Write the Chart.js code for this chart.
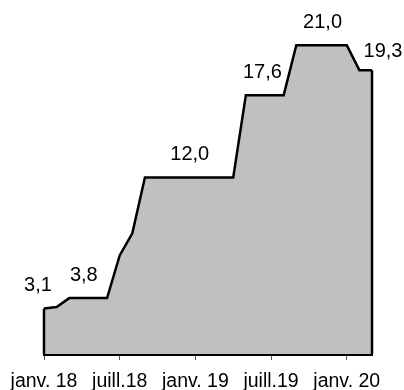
<html>
<head>
    <title>Croissance mensuelle</title>
    <script src="https://cdn.jsdelivr.net/npm/chart.js"></script>
    <style>
        body { margin: 0; background: #ffffff; }
        #wrap { width: 404px; height: 390px; }
    </style>
</head>
<body>
    <div id="wrap">
        <canvas id="area_chart" width="404" height="390"></canvas>
    </div>

    <script>
        // months from janv. 2018 to mars 2020
        const months = [
            "2018-01", "2018-02", "2018-03", "2018-04", "2018-05", "2018-06",
            "2018-07", "2018-08", "2018-09", "2018-10", "2018-11", "2018-12",
            "2019-01", "2019-02", "2019-03", "2019-04", "2019-05", "2019-06",
            "2019-07", "2019-08", "2019-09", "2019-10", "2019-11", "2019-12",
            "2020-01", "2020-02", "2020-03"
        ];
        const values = [
            3.1, 3.2, 3.8, 3.8, 3.8, 3.8,
            6.7, 8.2, 12.0, 12.0, 12.0, 12.0,
            12.0, 12.0, 12.0, 12.0, 17.6, 17.6,
            17.6, 17.6, 21.0, 21.0, 21.0, 21.0,
            21.0, 19.3, 19.3
        ];
        const tick_labels = { 0: "janv. 18", 6: "juill.18", 12: "janv. 19", 18: "juill.19", 24: "janv. 20" };
        // which months get a value written above them
        const labelled_points = [0, 3, 11, 17, 22, 26];
        const label_shift = { 0: -6, 3: 2, 11: 7, 17: 4, 22: 1, 26: 11 };

        const fontFamily = "'Liberation Sans', Arial, sans-serif";

        // closes the area with black edges down to the axis
        const edges = {
            id: "edges",
            afterDatasetsDraw(chart) {
                const ctx = chart.ctx;
                const x = chart.scales.x, y = chart.scales.y;
                const last = values.length - 1;
                ctx.save();
                ctx.strokeStyle = "#000000";
                ctx.lineWidth = 2.5;
                ctx.beginPath();
                ctx.moveTo(x.getPixelForValue(0), y.getPixelForValue(values[0]));
                ctx.lineTo(x.getPixelForValue(0), y.getPixelForValue(0));
                ctx.moveTo(x.getPixelForValue(last), y.getPixelForValue(values[last]));
                ctx.lineTo(x.getPixelForValue(last), y.getPixelForValue(0));
                ctx.stroke();
                ctx.restore();
            }
        };

        const value_labels = {
            id: "value_labels",
            afterDraw(chart) {
                const ctx = chart.ctx;
                const x = chart.scales.x, y = chart.scales.y;
                ctx.save();
                ctx.fillStyle = "#000000";
                ctx.font = "20px " + fontFamily;
                ctx.textAlign = "center";
                ctx.textBaseline = "middle";
                labelled_points.forEach(i => {
                    const px = x.getPixelForValue(i) + (label_shift[i] || 0);
                    const py = y.getPixelForValue(values[i]) - (i === 26 ? 19 : 23);
                    ctx.fillText(values[i].toFixed(1).replace(".", ","), px, py);
                });
                ctx.restore();
            }
        };

        const ctx = document.getElementById("area_chart").getContext("2d");
        new Chart(ctx, {
            type: "line",
            data: {
                labels: months,
                datasets: [{
                    data: values,
                    borderColor: "#000000",
                    borderWidth: 2.5,
                    backgroundColor: "#c0c0c0",
                    fill: "origin",
                    tension: 0,
                    pointRadius: 0,
                    borderJoinStyle: "miter"
                }]
            },
            options: {
                responsive: false,
                animation: false,
                layout: { padding: { top: 1, left: 44, right: 32, bottom: 0 } },
                plugins: {
                    legend: { display: false },
                    tooltip: { enabled: false }
                },
                scales: {
                    x: {
                        offset: false,
                        afterFit: axis => { axis.height = 36; },
                        border: { display: true, color: "#000000", width: 3 },
                        grid: {
                            drawOnChartArea: false,
                            drawTicks: true,
                            tickLength: 6,
                            tickColor: "#555555",
                            lineWidth: 1
                        },
                        ticks: {
                            autoSkip: false,
                            maxRotation: 0,
                            padding: 10,
                            color: "#000000",
                            font: { size: 19.5, family: fontFamily },
                            callback: (val, i) => (i in tick_labels ? tick_labels[i] : null)
                        }
                    },
                    y: {
                        display: false,
                        min: 0,
                        max: 24
                    }
                }
            },
            plugins: [edges, value_labels]
        });
    </script>
</body>
</html>
